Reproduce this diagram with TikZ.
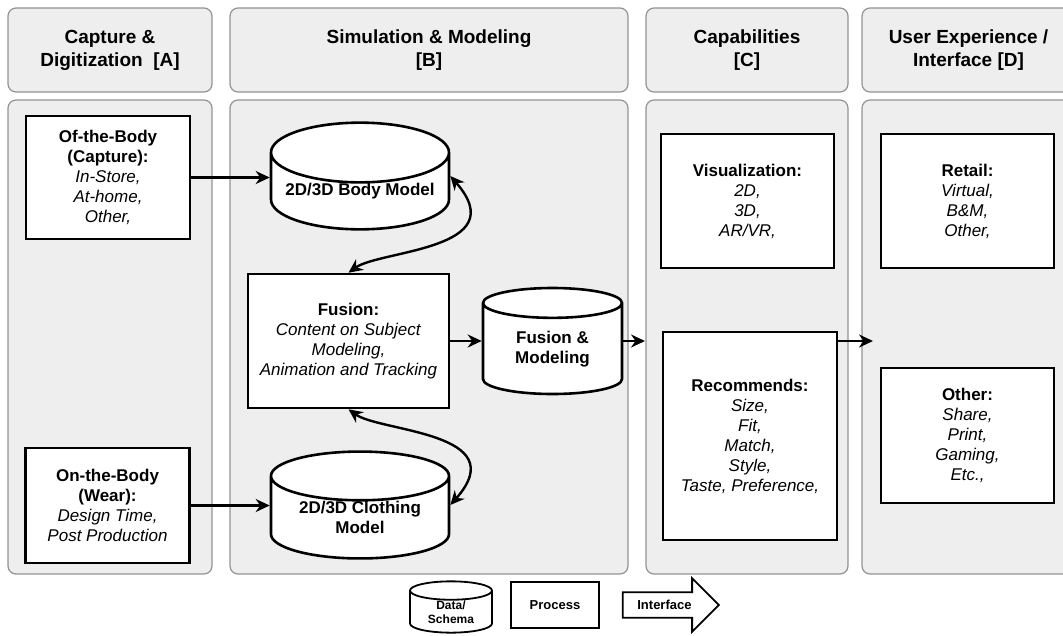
\documentclass[tikz,border=0pt]{standalone}
\usepackage{fontspec}
\setmainfont{Liberation Sans}
\usetikzlibrary{arrows.meta,positioning,shapes.geometric,shapes.arrows}
\definecolor{panelgray}{HTML}{EEEEEE}
\definecolor{panelline}{HTML}{939393}

\begin{document}
\begin{tikzpicture}[x=1pt,y=-1pt,
  panel/.style={draw=panelline, fill=panelgray, line width=1.2pt, rounded corners=8pt},
  hdr/.style={panel, minimum height=84pt, align=center, inner sep=0pt,
    font=\fontsize{19}{23}\selectfont\bfseries},
  proc/.style={draw, fill=white, line width=2.6pt, align=center, inner sep=0pt,
    font=\fontsize{17}{20}\selectfont},
  db/.style={proc, cylinder, shape border rotate=90, aspect=0.4, anchor=shape center},
  arr/.style={-{Stealth[length=14pt,width=13pt]}, line width=2.4pt},
  dblarr/.style={{Stealth[length=14pt,width=13pt]}-{Stealth[length=14pt,width=13pt]}, line width=2.4pt}]
\useasboundingbox (0,0) rectangle (1063,635);

% column headers
\node[hdr, minimum width=204pt] (hA) at (110,50) {Capture \&\\Digitization\ \ [A]};
\node[hdr, minimum width=398pt] (hB) at (429,50) {Simulation \& Modeling\\{[B]}};
\node[hdr, minimum width=202pt] (hC) at (747,50) {Capabilities\\{[C]}};
\node[hdr, minimum width=213pt] (hD) at (968.5,50) {User Experience /\\Interface [D]};

% column panels
\draw[panel] (8,100) rectangle (212,574);
\draw[panel] (230,100) rectangle (628,574);
\draw[panel] (646,100) rectangle (848,574);
\draw[panel] (862,100) rectangle (1075,574);

% capture
\node[proc, minimum width=164pt, minimum height=123pt] (ofb) at (108,177.5)
  {\textbf{Of-the-Body}\\\textbf{(Capture):}\\\textit{In-Store,}\\\textit{At-home,}\\\textit{Other,}};
\node[proc, minimum width=164pt, minimum height=115pt] (onb) at (107.5,505.5)
  {\textbf{On-the-Body}\\\textbf{(Wear):}\\\textit{Design Time,}\\\textit{Post Production}};

% simulation
\node[db, minimum width=178pt, minimum height=106pt] (bm) at (360,176) {\textbf{2D/3D Body Model}};
\node[proc, minimum width=201pt, minimum height=134pt] (fus) at (348.5,341)
  {\textbf{Fusion:}\\\textit{Content on Subject}\\\textit{Modeling,}\\\textit{Animation and Tracking}};
\node[db, minimum width=139pt, minimum height=106pt] (fm) at (552.5,341) {\textbf{Fusion \&}\\\textbf{Modeling}};
\node[db, minimum width=178pt, minimum height=106pt] (cl) at (360,505) {\textbf{2D/3D Clothing}\\\textbf{Model}};

% capabilities
\node[proc, minimum width=173pt, minimum height=134pt] (vis) at (747.5,201)
  {\textbf{Visualization:}\\\textit{2D,}\\\textit{3D,}\\\textit{AR/VR,}};
\node[proc, minimum width=174pt, minimum height=208pt] (rec) at (750,436)
  {\textbf{Recommends:}\\\textit{Size,}\\\textit{Fit,}\\\textit{Match,}\\\textit{Style,}\\\textit{Taste, Preference,}};

% user experience
\node[proc, minimum width=173pt, minimum height=134pt] (ret) at (967.5,201)
  {\textbf{Retail:}\\\textit{Virtual,}\\\textit{B\&M,}\\\textit{Other,}};
\node[proc, minimum width=173pt, minimum height=135pt] (oth) at (967.5,435.5)
  {\textbf{Other:}\\\textit{Share,}\\\textit{Print,}\\\textit{Gaming,}\\\textit{Etc.,}};

% connectors
\coordinate (cIn) at (645,341);
\coordinate (dIn) at (873,341);
\draw[arr] (ofb.east) -- (ofb.east -| bm.west);
\draw[arr] (onb.east) -- (onb.east -| cl.west);
\draw[dblarr] (bm.east |- bm.shape center) .. controls (515,250) and (380,250) .. (fus.north);
\draw[dblarr] (fus.south) .. controls (380,432) and (515,432) .. (cl.east |- cl.shape center);
\draw[arr] (fus.east) -- (fus.east -| fm.west);
\draw[arr] (cIn -| fm.east) -- (cIn);
\draw[arr] (rec.east |- dIn) -- (dIn);

% legend
\node[db, line width=1.8pt, minimum width=82pt, minimum height=50pt,
  font=\fontsize{12}{14}\selectfont\bfseries] (lgdb) at (451,607) {Data/\\Schema};
\node[proc, line width=1.8pt, minimum width=88pt, minimum height=46pt,
  font=\fontsize{13}{15}\selectfont\bfseries] (lgproc) at (555,605) {Process};
\node[draw, fill=white, single arrow, line width=1.8pt, minimum height=96pt,
  single arrow head extend=14pt, inner xsep=4pt, inner ysep=7pt,
  font=\fontsize{13}{15}\selectfont\bfseries, right=22pt of lgproc] (lgif) {Interface};
\end{tikzpicture}
\end{document}
